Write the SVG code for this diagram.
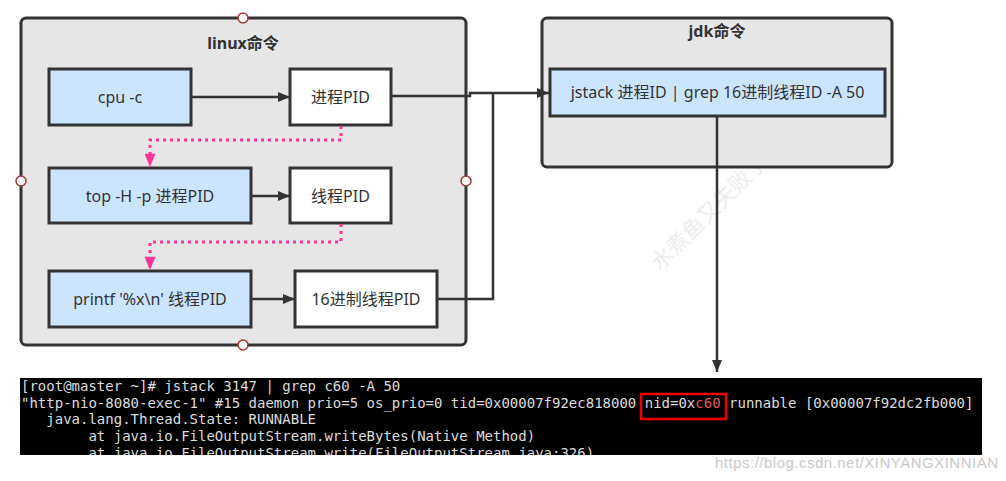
<svg xmlns="http://www.w3.org/2000/svg" width="1006" height="481" viewBox="0 0 1006 481">
<style>
.cont{fill:#e6e6e6;stroke:#333;stroke-width:3}
.blue{fill:#cce5ff;stroke:#333;stroke-width:3}
.white{fill:#fff;stroke:#333;stroke-width:3}
.lbl{font-family:"Noto Sans","Noto Sans CJK SC",sans-serif;font-size:16px;fill:#333;text-anchor:middle}
.title{font-family:"Noto Sans","Noto Sans CJK SC",sans-serif;font-size:16px;font-weight:bold;fill:#333;text-anchor:middle}
.conn{fill:none;stroke:#333;stroke-width:2.5}
.dot{fill:none;stroke:#ff3399;stroke-width:3;stroke-dasharray:3 4}
.port{fill:#fff;stroke:#a33;stroke-width:1.5}
.term{font-family:"DejaVu Sans Mono",monospace;font-size:14px;fill:#dcdcdc}
.wm{font-family:"Noto Sans CJK SC",sans-serif;font-size:22px;fill:#ededed}
</style>
<defs>
<marker id="ah" viewBox="0 0 12 10" refX="12" refY="5" markerWidth="12" markerHeight="10" markerUnits="userSpaceOnUse" orient="auto"><path d="M0,0 L12,5 L0,10 Z" fill="#333"/></marker>
<marker id="ahp" viewBox="0 0 12 10" refX="12" refY="5" markerWidth="14" markerHeight="11" markerUnits="userSpaceOnUse" orient="auto"><path d="M0,0 L12,5 L0,10 Z" fill="#ff3399"/></marker>
</defs>
<rect width="1006" height="481" fill="#fff"/>
<g id="watermarks">
<text class="wm" transform="translate(660,272) rotate(-45)">水煮鱼又失败了</text>
</g>
<g id="linux">
<rect class="cont" x="21" y="18" width="445" height="327" rx="5"/>
<text class="title" x="243" y="49">linux命令</text>
</g>
<g id="jdk">
<rect class="cont" x="542" y="18" width="350" height="149" rx="5"/>
<text class="title" x="717" y="37">jdk命令</text>
</g>
<g id="cpu"><rect class="blue" x="49" y="69" width="142" height="56"/><text class="lbl" x="120" y="103">cpu -c</text></g>
<g id="pid"><rect class="white" x="290" y="69" width="101" height="56"/><text class="lbl" x="340.5" y="103">进程PID</text></g>
<g id="top"><rect class="blue" x="49" y="168" width="202" height="55"/><text class="lbl" x="150" y="202">top -H -p 进程PID</text></g>
<g id="tid"><rect class="white" x="290" y="168" width="101" height="55"/><text class="lbl" x="340.5" y="202">线程PID</text></g>
<g id="printf"><rect class="blue" x="49" y="271" width="202" height="56"/><text class="lbl" x="150" y="305">printf '%x\n' 线程PID</text></g>
<g id="hex"><rect class="white" x="295" y="271" width="142" height="56"/><text class="lbl" x="366" y="305">16进制线程PID</text></g>
<g id="jstack"><rect class="blue" x="550" y="69" width="335" height="47"/><text class="lbl" x="717.5" y="98">jstack 进程ID | grep 16进制线程ID -A 50</text></g>
<g id="connectors">
<line class="conn" x1="191" y1="97" x2="290" y2="97" marker-end="url(#ah)"/>
<line class="conn" x1="251" y1="196" x2="290" y2="196" marker-end="url(#ah)"/>
<line class="conn" x1="251" y1="299" x2="295" y2="299" marker-end="url(#ah)"/>
<path class="conn" d="M391,96 H470 V93 H549" marker-end="url(#ah)"/>
<path class="conn" d="M437,299 H493 V93"/>
<path class="conn" d="M717,116 V372" marker-end="url(#ah)"/>
<path class="dot" d="M341,126 V140 H150 V167" marker-end="url(#ahp)"/>
<path class="dot" d="M341,224 V242 H150 V270" marker-end="url(#ahp)"/>
</g>
<g id="ports">
<circle class="port" cx="243" cy="18" r="5"/>
<circle class="port" cx="21" cy="181" r="5"/>
<circle class="port" cx="466" cy="181" r="5"/>
<circle class="port" cx="243" cy="345" r="5"/>
</g>
<g id="terminal">
<rect x="20" y="378" width="962" height="77" fill="#000"/>
<svg x="20" y="378" width="962" height="77" viewBox="20 378 962 77">
<text class="term" xml:space="preserve" x="21" y="391">[root@master ~]# jstack 3147 | grep c60 -A 50</text>
<text class="term" xml:space="preserve" x="21" y="408">"http-nio-8080-exec-1" #15 daemon prio=5 os_prio=0 tid=0x00007f92ec818000 nid=0x<tspan fill="#e05a5a">c60</tspan> runnable [0x00007f92dc2fb000]</text>
<text class="term" xml:space="preserve" x="21" y="424">   java.lang.Thread.State: RUNNABLE</text>
<text class="term" xml:space="preserve" x="21" y="441">        at java.io.FileOutputStream.writeBytes(Native Method)</text>
<text class="term" xml:space="preserve" x="21" y="458">        at java.io.FileOutputStream.write(FileOutputStream.java:326)</text>
</svg>
<rect x="641" y="394" width="85" height="25" fill="none" stroke="#e00" stroke-width="2.5"/>
</g>
<text x="715" y="468" font-family="Liberation Sans,Arial,sans-serif" font-size="15" fill="#c8c8c8" textLength="283">https://blog.csdn.net/XINYANGXINNIAN</text>
</svg>
